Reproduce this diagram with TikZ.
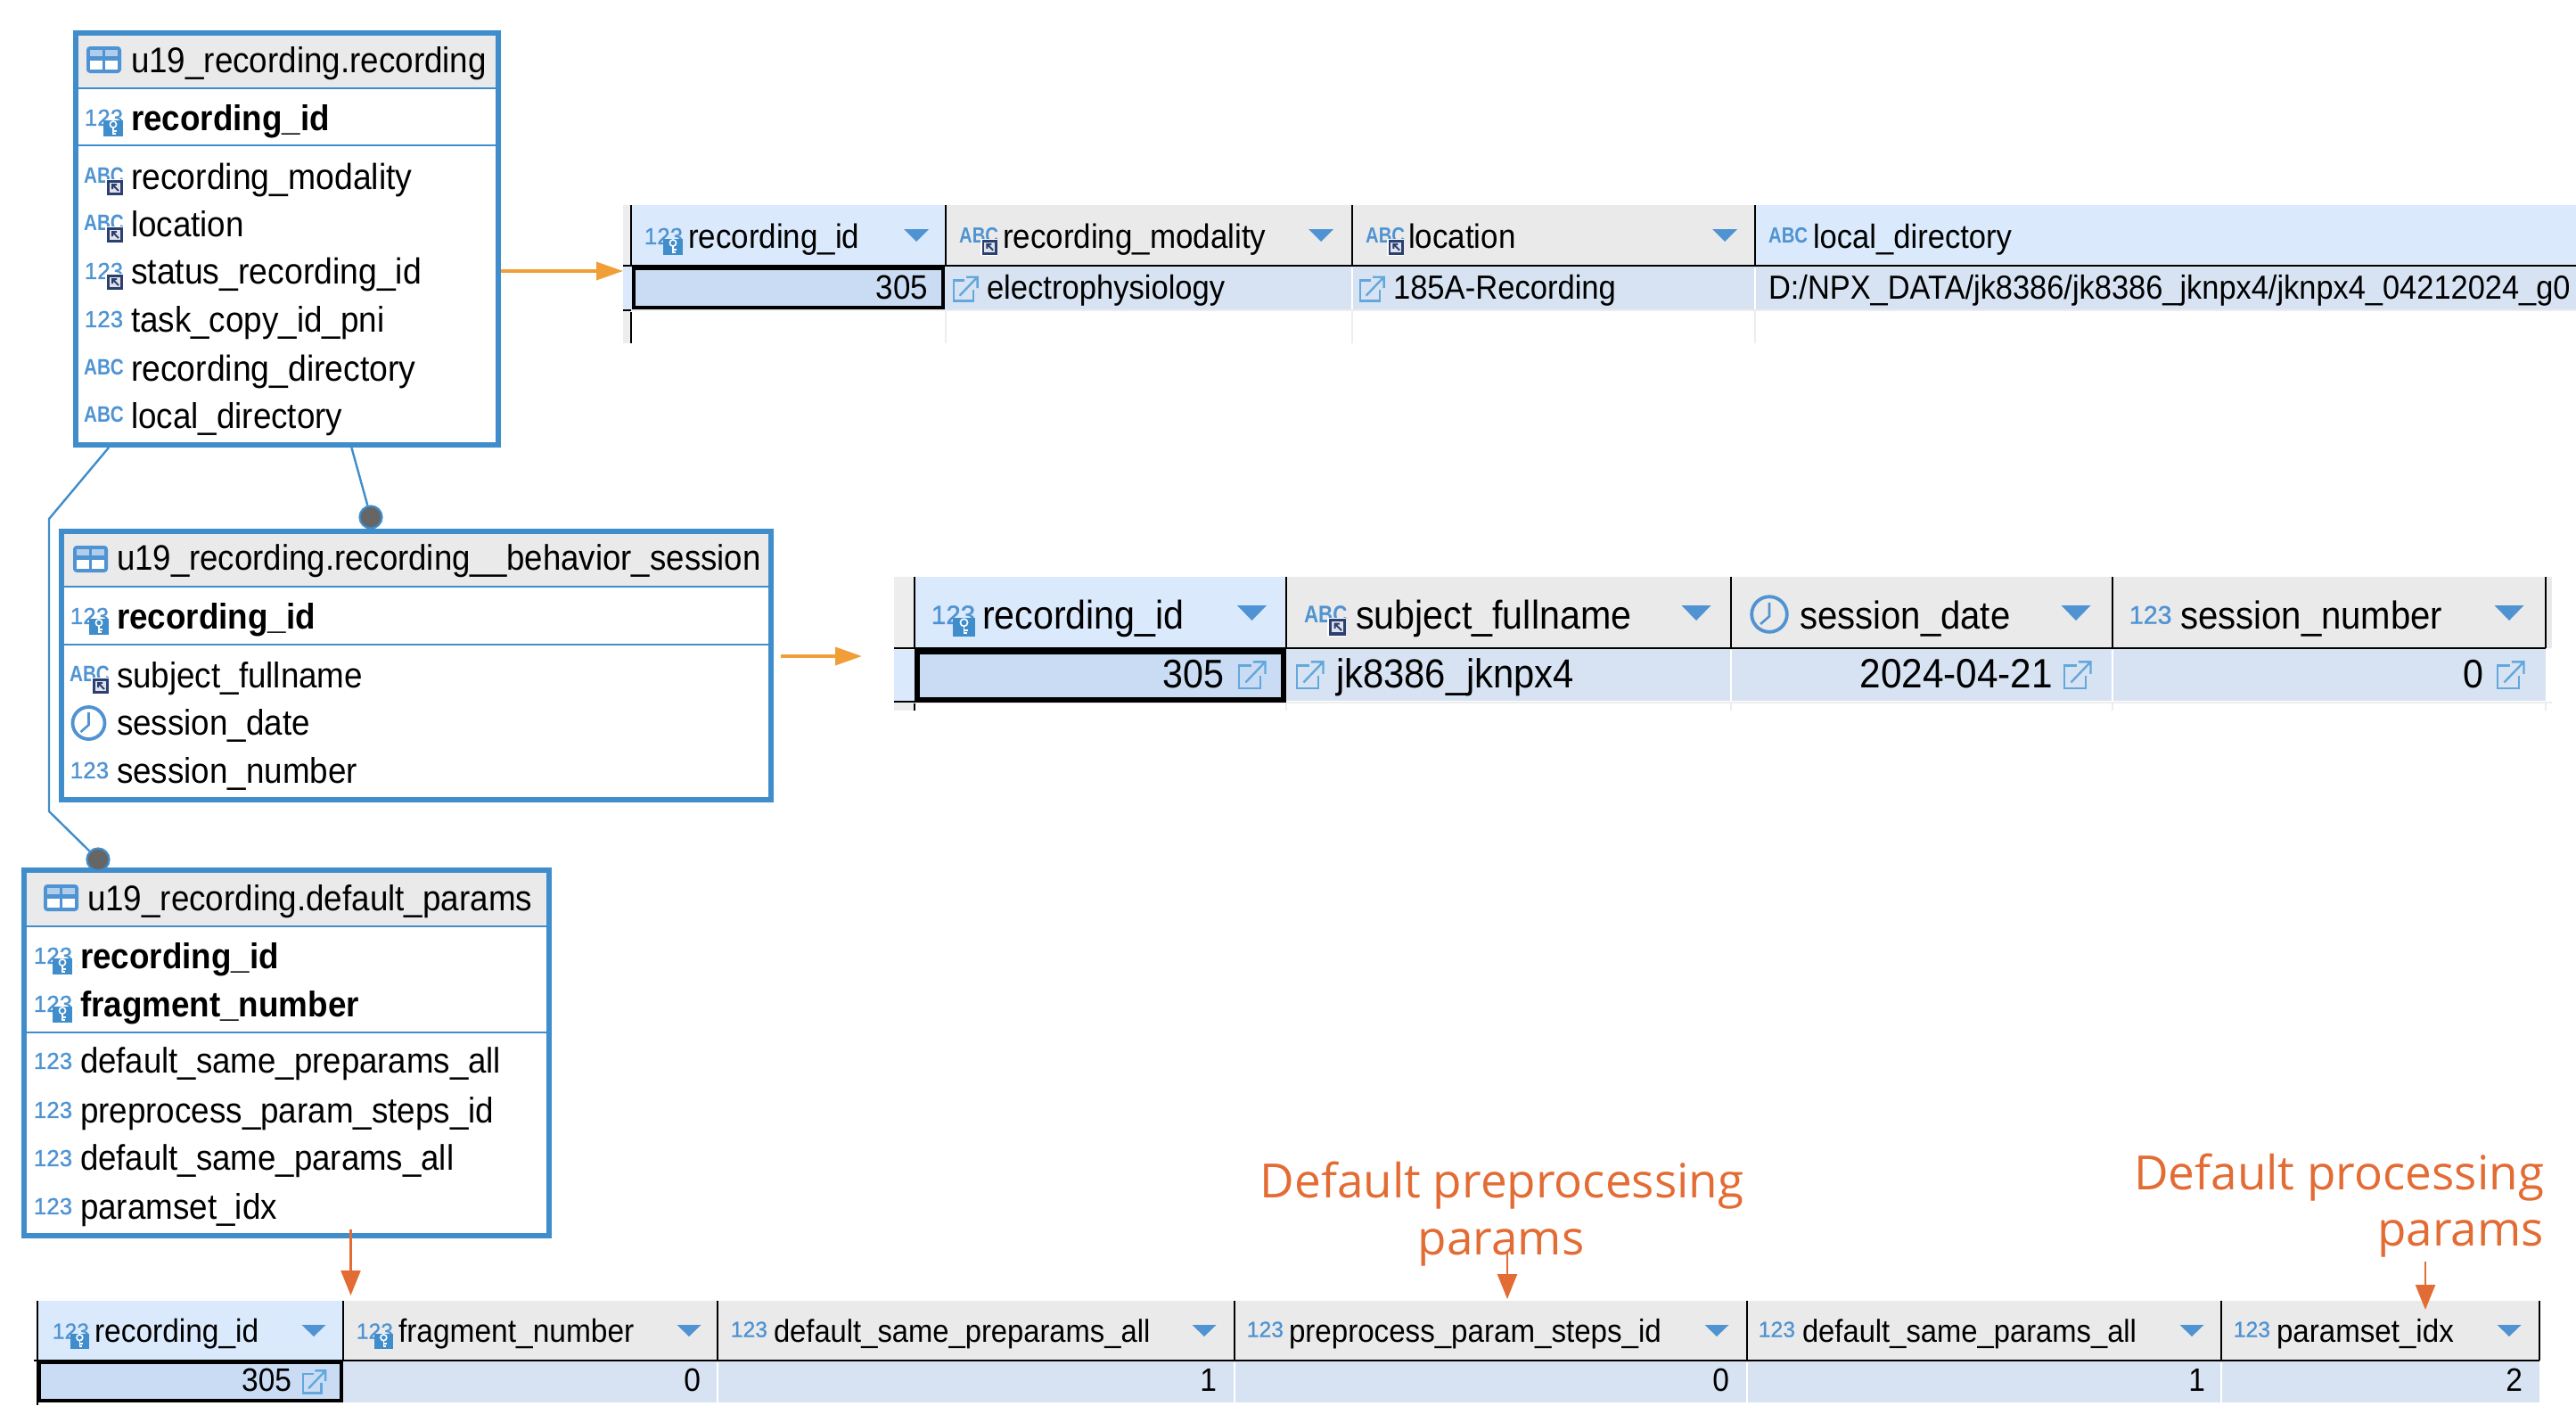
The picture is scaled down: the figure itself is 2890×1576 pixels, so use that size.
\documentclass[tikz,border=0pt]{standalone}
\usepackage{fontspec}
\setmainfont[FakeStretch=0.92]{Liberation Sans}
\newfontfamily\notefont{Open Sans}
\newfontfamily\icofont[FakeBold=1]{Liberation Sans}
\usetikzlibrary{arrows.meta}
\definecolor{boxblue}{HTML}{408DCB}
\definecolor{icoblue}{HTML}{4F93D2}
\definecolor{linkblue}{HTML}{62A8DC}
\definecolor{navy}{HTML}{2B3F70}
\definecolor{hgray}{HTML}{EAEAEA}
\definecolor{hact}{HTML}{DAE9FB}
\definecolor{rowc}{HTML}{D7E3F2}
\definecolor{selc}{HTML}{C9DCF3}
\definecolor{gridc}{HTML}{EDEDED}
\definecolor{ora}{HTML}{F09F38}
\definecolor{red1}{HTML}{E36C35}
\definecolor{dotg}{HTML}{666666}
\newcounter{lblc}
\newcommand{\nx}{\stepcounter{lblc}}
\newcommand{\nn}{t\arabic{lblc}}
\tikzset{
  x=0.5pt,y=-0.5pt,
  lbl/.style={inner sep=0pt,outer sep=0pt,text=black},
  ico/.style={inner sep=0pt,outer sep=0pt,text=icoblue,transform shape},
  erbox/.style={draw=boxblue,fill=white,line width=3pt,inner sep=0pt},
  rel/.style={draw=boxblue,line width=1.2pt},
  reldot/.style={circle,fill=dotg,draw=boxblue,line width=1.1pt,minimum size=12.5pt,inner sep=0pt},
  orarrow/.style={draw=ora,line width=1.8pt,-{Triangle[length=15pt,width=10pt,color=ora]}},
  redarrow/.style={draw=red1,line width=1.2pt,-{Triangle[length=14pt,width=11pt,color=red1]}},
  note/.style={inner sep=0pt,outer sep=0pt,text=red1,font=\notefont\fontsize{26.5}{26.5}\selectfont},
  hline/.style={draw=boxblue,line width=1.2pt},
  blk/.style={draw=black,line width=1pt},
  grid/.style={draw=gridc,line width=1pt}
}
% text: size(pt) x centre-y text
\newcommand{\tl}[4]{\nx\node[lbl,anchor=base west,font=\fontsize{#1}{#1}\selectfont] (\nn) at (#2,{#3+0.6*#1}) {#4};}
\newcommand{\tr}[4]{\nx\node[lbl,anchor=base east,font=\fontsize{#1}{#1}\selectfont] (\nn) at (#2,{#3+0.6*#1}) {#4};}
\newcommand{\tb}[4]{\nx\node[lbl,anchor=base west,font=\bfseries\fontsize{#1}{#1}\selectfont] (\nn) at (#2,{#3+0.6*#1}) {#4};}
% icons: x cy scale
\newcommand{\numi}[3]{\nx\begin{scope}[shift={(#1,#2)},scale=#3]\node[ico,font=\icofont\fontsize{13}{13}\selectfont] (\nn) at (21.5,-2) {123};\end{scope}}
\newcommand{\abci}[3]{\nx\begin{scope}[shift={(#1,#2)},scale=#3]\node[ico,font=\bfseries\fontsize{12.5}{12.5}\selectfont] (\nn) at (21.5,-3) {\scalebox{0.9}[1]{ABC}};\end{scope}}
\newcommand{\keyb}[3]{\begin{scope}[shift={(#1,#2)},scale=#3]
  \fill[boxblue] (21,1) rectangle (43,19);
  \draw[white,line width=0.8pt] (32,5.5) circle (3.6);
  \draw[white,line width=0.9pt] (32,9) -- (32,17) (32,13) -- (36,13) (32,16) -- (35,16);
  \end{scope}}
\newcommand{\lnkb}[3]{\begin{scope}[shift={(#1,#2)},scale=#3]
  \fill[white] (23,1) rectangle (43,20);
  \fill[navy] (25,2) rectangle (43,19);
  \fill[white!85!navy] (28,5) rectangle (40,16);
  \draw[navy,line width=1pt] (38,14) -- (31,7) (31,12) -- (31,7) -- (36,7);
  \end{scope}}
\newcommand{\extl}[3]{\begin{scope}[shift={(#1,#2)},scale=#3]
  \draw[linkblue,line width=1.2pt] (14,-10) -- (1,-10) -- (1,14) -- (24,14) -- (24,1);
  \draw[linkblue,line width=1.2pt] (8,8) -- (29,-14) (16,-14) -- (29,-14) -- (29,-1);
  \end{scope}}
\newcommand{\clocki}[3]{\begin{scope}[shift={(#1,#2)},scale=#3]
  \draw[icoblue,line width=1.9pt] (0,0) circle (18);
  \draw[icoblue,line width=1.3pt] (0,-12) -- (0,2) -- (-9,10);
  \end{scope}}
\newcommand{\tabi}[2]{\begin{scope}[shift={(#1,#2)}]
  \fill[icoblue,rounded corners=2pt] (0,0) rectangle (39,30);
  \fill[icoblue!45!white] (4,4) rectangle (18,11);
  \fill[icoblue!45!white] (21,4) rectangle (35,11);
  \fill[white] (4,16) rectangle (18,26);
  \fill[white] (21,16) rectangle (35,26);
  \end{scope}}
\newcommand{\tri}[4]{\fill[icoblue] ({#1-#2},#3) -- ({#1+#2},#3) -- (#1,#4) -- cycle;}
% box: name x1 y1 x2 y2 (border centre-line)
\newcommand{\mkbox}[5]{\node[erbox,minimum width={(#4-#2)*0.5pt},minimum height={(#5-#3)*0.5pt}] (#1) at ({(#2+#4)/2},{(#3+#5)/2}) {};}
\begin{document}
\begin{tikzpicture}
\useasboundingbox (0,0) rectangle (2890,1576);
\fill[white] (0,0) rectangle (2890,1576);

% ===== ER boxes =====
\mkbox{box1}{85}{37}{559}{499}
\fill[hgray] (88,40) rectangle (556,99);
\draw[hline] (88,99) -- (556,99) (88,163) -- (556,163);
\tabi{97}{52}
\tl{20}{147}{69}{u19\_recording.recording}
\numi{95}{134}{1}\keyb{95}{134}{1}
\tb{20}{147}{134}{recording\_id}
\abci{95}{200}{1}\lnkb{95}{200}{1}\tl{20.3}{147}{200}{recording\_modality}
\abci{95}{253}{1}\lnkb{95}{253}{1}\tl{20}{147}{253}{location}
\numi{95}{306}{1}\lnkb{95}{306}{1}\tl{20.3}{147}{306}{status\_recording\_id}
\numi{95}{360}{1}\tl{20}{147}{360}{task\_copy\_id\_pni}
\abci{95}{415}{1}\tl{20.3}{147}{415}{recording\_directory}
\abci{95}{468}{1}\tl{20}{147}{468}{local\_directory}

\mkbox{box2}{69}{596}{865}{897}
\fill[hgray] (72,599) rectangle (862,658);
\draw[hline] (72,658) -- (862,658) (72,723) -- (862,723);
\tabi{82}{612}
\tl{19.9}{131}{628}{u19\_recording.recording\_\_behavior\_session}
\numi{79}{693}{1}\keyb{79}{693}{1}
\tb{20}{131}{693}{recording\_id}
\abci{79}{759}{1}\lnkb{79}{759}{1}\tl{20}{131}{759}{subject\_fullname}
\clocki{99.5}{811}{1}\tl{20}{131}{812}{session\_date}
\numi{79}{866}{1}\tl{20}{131}{866}{session\_number}

\mkbox{box3}{27}{976}{616}{1386}
\fill[hgray] (30,979) rectangle (613,1039);
\draw[hline] (30,1039) -- (613,1039) (30,1158) -- (613,1158);
\tabi{49}{992}
\tl{20}{98}{1009}{u19\_recording.default\_params}
\numi{38}{1074}{1}\keyb{38}{1074}{1}
\tb{20}{90}{1074}{recording\_id}
\numi{38}{1128}{1}\keyb{38}{1128}{1}
\tb{20}{90}{1128}{fragment\_number}
\numi{38}{1192}{1}\tl{19.9}{90}{1192}{default\_same\_preparams\_all}
\numi{38}{1247}{1}\tl{20}{90}{1247}{preprocess\_param\_steps\_id}
\numi{38}{1301}{1}\tl{19.9}{90}{1301}{default\_same\_params\_all}
\numi{38}{1355}{1}\tl{20}{90}{1355}{paramset\_idx}

% relation connectors
\node[reldot] (dot1) at (416,580) {};
\node[reldot] (dot2) at (110,964) {};
\coordinate (bend1) at (55,582);
\coordinate (bend2) at (55,910);
\draw[rel] ([xshift=36.2pt]box1.south) -- (dot1);
\draw[rel] ([xshift=20pt]box1.south west) -- (bend1) -- (bend2) -- (dot2);

% ===== Table 1 =====
\fill[gridc] (699,230) rectangle (708,385);
\fill[hact] (699,298) rectangle (708,347);
\fill[hact] (708,230) rectangle (1061,298);
\fill[hgray] (1061,230) rectangle (1969,298);
\fill[hact] (1969,230) rectangle (2890,298);
\fill[rowc] (708,298) rectangle (2890,347);
\draw[grid] (1061,349) -- (1061,385) (1517,349) -- (1517,385) (1969,349) -- (1969,385);
\draw[gridc,line width=0.8pt] (708,348) -- (2890,348);
\draw[white,line width=0.7pt] (1517,300) -- (1517,347) (1969,300) -- (1969,347);
\draw[blk] (708,230) -- (708,298) (1061,230) -- (1061,298) (1517,230) -- (1517,298) (1969,230) -- (1969,298) (708,350) -- (708,385);
\draw[black,line width=1.3pt] (699,298) -- (2890,298);
\draw[black,line width=0.8pt] (699,348) -- (708,348);
\draw[black,fill=selc,line width=2.4pt] (711,301) rectangle (1058,345);
\numi{723}{267}{1}\keyb{723}{267}{1}\tl{19}{772}{267}{recording\_id}\tri{1028}{14}{257}{271}
\abci{1077}{267}{0.98}\lnkb{1077}{267}{0.98}\tl{19}{1125}{267}{recording\_modality}\tri{1482}{14}{257}{271}
\abci{1533}{267}{0.98}\lnkb{1533}{267}{0.98}\tl{19}{1580}{267}{location}\tri{1935}{14}{257}{271}
\abci{1985}{267}{0.98}\tl{18.8}{2034}{267}{local\_directory}
\tr{19}{1041}{324}{305}
\extl{1069}{324}{0.95}\tl{18.8}{1107}{324}{electrophysiology}
\extl{1525}{324}{0.95}\tl{18.8}{1563}{324}{185A-Recording}
\tl{18.7}{1984}{324}{D:/NPX\_DATA/jk8386/jk8386\_jknpx4/jknpx4\_04212024\_g0}

% ===== Table 2 =====
\fill[gridc] (1003,647) rectangle (1026,797);
\fill[hact] (1003,729) rectangle (1026,786);
\fill[hact] (1026,647) rectangle (1443,727);
\fill[hgray] (1443,647) rectangle (2863,727);
\fill[rowc] (1026,727) rectangle (2856,786);
\draw[gridc,line width=1pt] (1003,788) -- (2863,788);
\draw[grid] (1443,789) -- (1443,797) (1942,789) -- (1942,797) (2370,789) -- (2370,797) (2856,789) -- (2856,797);
\draw[white,line width=0.7pt] (1942,729) -- (1942,786) (2370,729) -- (2370,786);
\draw[blk] (1026,647) -- (1026,727) (1443,647) -- (1443,727) (1942,647) -- (1942,727) (2370,647) -- (2370,727) (2856,647) -- (2856,727) (1026,789) -- (1026,797);
\draw[black,line width=1.3pt] (1003,727) -- (2856,727);
\draw[black,line width=1pt] (1003,787) -- (1026,787);
\draw[black,fill=selc,line width=2.8pt] (1029,731) rectangle (1440,785);
\numi{1045}{692}{1.14}\keyb{1045}{692}{1.14}\tl{22.4}{1102}{692}{recording\_id}\tri{1404.5}{16.5}{679}{696}
\abci{1464}{692}{1.08}\lnkb{1464}{692}{1.08}\tl{22.4}{1521}{692}{subject\_fullname}\tri{1903}{16.5}{679}{696}
\clocki{1985}{689}{1.1}\tl{21.8}{2019}{692}{session\_date}\tri{2329}{16.5}{679}{696}
\numi{2389}{692}{1.1}\tl{21.8}{2446}{692}{session\_number}\tri{2815}{16.5}{679}{696}
\tr{22.4}{1373}{758}{305}\extl{1389}{757}{1.05}
\extl{1454}{757}{1.05}\tl{22.7}{1499}{758}{jk8386\_jknpx4}
\tr{23}{2303}{758}{2024-04-21}\extl{2315}{757}{1.05}
\tr{22.4}{2786}{758}{0}\extl{2801}{757}{1.05}

% ===== Table 3 =====
\fill[hact] (42,1459) rectangle (385,1526);
\fill[hgray] (385,1459) rectangle (2849,1526);
\fill[rowc] (42,1526) rectangle (2849,1573);
\draw[white,line width=0.7pt] (805,1528) -- (805,1573) (1385,1528) -- (1385,1573) (1960,1528) -- (1960,1573) (2492,1528) -- (2492,1573);
\draw[blk] (42,1459) -- (42,1576) (385,1459) -- (385,1526) (805,1459) -- (805,1526) (1385,1459) -- (1385,1526) (1960,1459) -- (1960,1526) (2492,1459) -- (2492,1526) (2849,1459) -- (2849,1526);
\draw[black,line width=1.3pt] (38,1526) -- (2849,1526);
\draw[black,fill=selc,line width=1.6pt] (44,1528) rectangle (383,1571);
\numi{59}{1495}{0.95}\keyb{59}{1495}{0.95}\tl{18.2}{106}{1495}{recording\_id}\tri{352}{13.5}{1486}{1499}
\numi{400}{1495}{0.95}\keyb{400}{1495}{0.95}\tl{18.2}{447}{1495}{fragment\_number}\tri{773}{13.5}{1486}{1499}
\numi{820}{1493}{0.95}\tl{17.8}{868}{1495}{default\_same\_preparams\_all}\tri{1351}{13.5}{1486}{1499}
\numi{1399}{1493}{0.95}\tl{18}{1446}{1495}{preprocess\_param\_steps\_id}\tri{1926}{13.5}{1486}{1499}
\numi{1973}{1493}{0.95}\tl{17.8}{2022}{1495}{default\_same\_params\_all}\tri{2459}{13.5}{1486}{1499}
\numi{2506}{1493}{0.95}\tl{18}{2554}{1495}{paramset\_idx}\tri{2815}{13.5}{1486}{1499}
\tr{18.2}{327}{1550}{305}\extl{339}{1550}{0.9}
\tr{18.2}{786}{1550}{0}
\tr{18.2}{1365}{1550}{1}
\tr{18.2}{1940}{1550}{0}
\tr{18.2}{2474}{1550}{1}
\tr{18.2}{2830}{1550}{2}

% ===== Annotations =====
\node[note,anchor=base] (n1a) at (1685,1343) {Default preprocessing};
\node[note,anchor=base] (n1b) at (1684,1407) {params};
\node[note,anchor=base east] (n2a) at (2854,1334) {Default processing};
\node[note,anchor=base east] (n2b) at (2854,1397) {params};

% ===== Arrows =====
\coordinate (a1e) at (699,304);
\coordinate (a2e) at (967,736);
\draw[orarrow] (box1.east |- a1e) -- (a1e);
\draw[orarrow] ([xshift=4pt]box2.east |- a2e) -- (a2e);
\coordinate (a3s) at (393.5,1379);
\coordinate (a3e) at (393.5,1453);
\draw[redarrow] (a3s) -- (a3e);
\coordinate (a4s) at (1691,1405);
\coordinate (a4e) at (1691,1457);
\draw[redarrow] (a4s) -- (a4e);
\coordinate (a5s) at (2721,1415);
\coordinate (a5e) at (2721,1469);
\draw[redarrow] (a5s) -- (a5e);
\end{tikzpicture}
\end{document}
